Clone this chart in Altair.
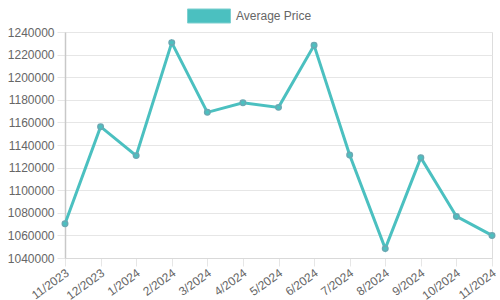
import altair as alt
import pandas as pd

months = ["11/2023", "12/2023", "1/2024", "2/2024", "3/2024", "4/2024", "5/2024",
          "6/2024", "7/2024", "8/2024", "9/2024", "10/2024", "11/2024"]
prices = [1070300, 1156200, 1130600, 1230600, 1168900, 1177300, 1173300,
          1228200, 1131200, 1048300, 1128800, 1076800, 1060000]
series = ["Average Price"] * len(months)
y_ticks = list(range(1040000, 1240001, 20000))

df = pd.DataFrame({"month": months, "price": prices, "series": series})

teal = "#4bc0c0"
font = "Liberation Sans"

x_enc = alt.X("month:N", sort=months, title=None,
              scale=alt.Scale(type="point", padding=0),
              axis=alt.Axis(labelAngle=-36, labelFontSize=12, labelColor="#666666",
                            labelFont=font, tickSize=8, tickColor="#e6e6e6",
                            gridColor="#e6e6e6", domainColor="#d9d9d9",
                            labelPadding=1, labelAlign="right", labelBaseline="top",
                            labelOffset=-1, labelOverlap=False))
y_enc = alt.Y("price:Q", title=None,
              scale=alt.Scale(domain=[1040000, 1240000], nice=False, zero=False),
              axis=alt.Axis(values=y_ticks, format="d", labelFontSize=12,
                            labelColor="#666666", labelFont=font, tickSize=8,
                            tickColor="#e6e6e6", gridColor="#e6e6e6",
                            domainColor="#c8c8c8", domainWidth=1.5, labelPadding=3))

base = alt.Chart(df).encode(x=x_enc, y=y_enc)

line = base.mark_line(color=teal, strokeWidth=3)
points = base.mark_point(filled=True, size=30, stroke="#6aa9b3", strokeWidth=1.5,
                         opacity=1).encode(
    fill=alt.Fill("series:N", scale=alt.Scale(range=[teal]),
                  legend=alt.Legend(title=None, orient="none", legendX=122, legendY=-38,
                                    symbolType="M-1,-0.326L1,-0.326L1,0.326L-1,0.326Z",
                                    symbolSize=1849, symbolStrokeColor="#7fd0d0",
                                    symbolStrokeWidth=1, labelFontSize=12,
                                    labelColor="#666666", labelFont=font,
                                    labelOffset=5, padding=0))
)

chart = (line + points).properties(
    width=427, height=226,
    autosize=alt.AutoSizeParams(type="none"),
    padding={"left": 65, "top": 32, "right": 8, "bottom": 42},
).configure_view(stroke=None).configure(background="white")

chart.save("out.html", embed_options={"renderer": "svg", "actions": False})
